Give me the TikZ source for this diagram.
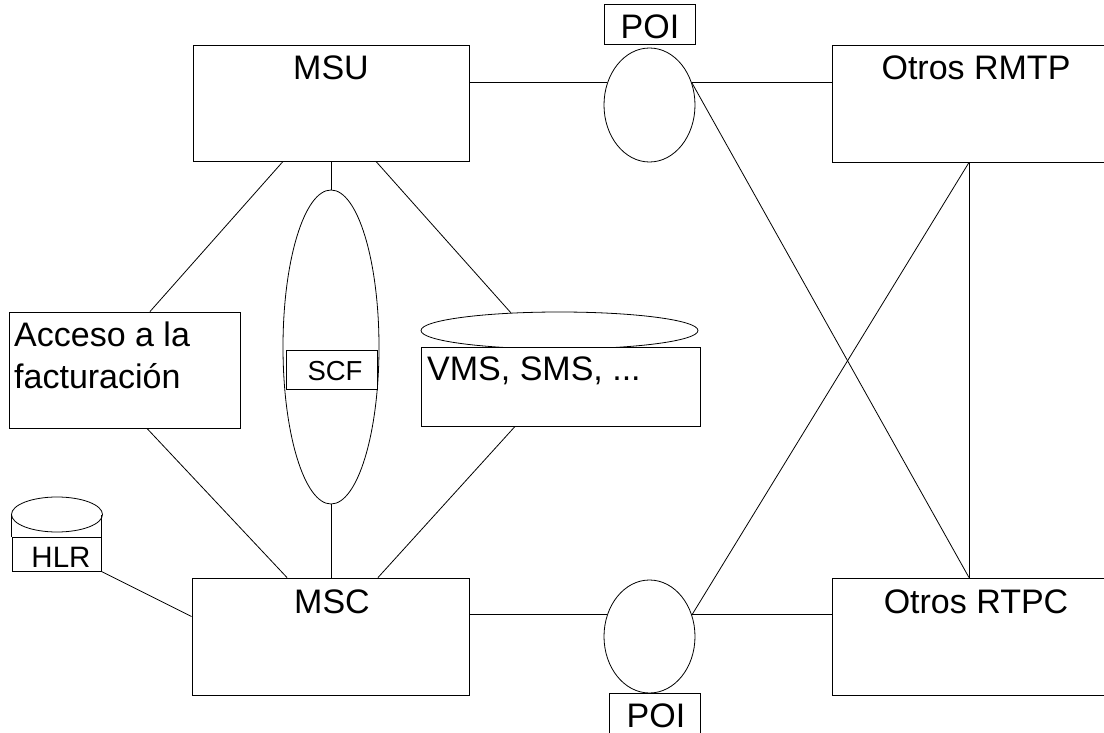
\documentclass[tikz,border=0pt]{standalone}
\usepackage{fontspec}
\setmainfont{Liberation Sans}
\usetikzlibrary{shapes.geometric,calc}
\begin{document}
\begin{tikzpicture}[x=1pt,y=-1pt,
  box/.style={draw, rectangle, inner sep=0pt, line width=0.9pt, fill=white},
  oval/.style={draw, ellipse, inner sep=0pt, line width=0.8pt, fill=white},
  link/.style={line width=0.8pt},
  big/.style={font=\fontsize{34}{41.7}\selectfont, inner sep=0pt},
  mid/.style={font=\fontsize{29.5}{34}\selectfont, inner sep=0pt},
  small/.style={font=\fontsize{27.5}{32}\selectfont, inner sep=0pt}]
\useasboundingbox (0,0) rectangle (1104,733);
\clip (0,0) rectangle (1104,733);

% main boxes
\node[box, minimum width=276pt, minimum height=116pt] (msu) at (331,103) {};
\node[box, minimum width=277pt, minimum height=117pt] (msc) at (330.5,636.5) {};
\node[box, minimum width=274pt, minimum height=117pt] (rmtp) at (969,103.5) {};
\node[box, minimum width=274pt, minimum height=117pt] (rtpc) at (969,636.5) {};
\node[box, minimum width=231pt, minimum height=116pt] (acceso) at (124.5,370) {};

% VMS storage
\node[oval, minimum width=277pt, minimum height=37pt] (vmsell) at (559.5,330.5) {};
\node[box, minimum width=279pt, minimum height=79pt] (vms) at (560.5,386.5) {};

% SCF
\node[oval, minimum width=96pt, minimum height=314pt] (scfell) at (331,347) {};
\node[box, minimum width=91pt, minimum height=39pt] (scf) at (331.5,369.5) {};

% POIs
\node[oval, minimum width=91pt, minimum height=114pt] (poi1ell) at (649.5,105) {};
\node[box, minimum width=91pt, minimum height=40pt] (poi1) at (649.5,24) {};
\node[oval, minimum width=91pt, minimum height=113pt] (poi2ell) at (649.5,636.5) {};
\node[box, minimum width=91pt, minimum height=52pt] (poi2) at (654.5,719) {};

% HLR cylinder
\node[oval, minimum width=91pt, minimum height=35pt] (hlrtop) at (57,514.5) {};
\node[box, minimum width=89pt, minimum height=34pt] (hlr) at (56.5,554) {};
\draw[line width=0.9pt] (hlr.north west) -- ++(0,-22);
\draw[line width=0.9pt] (hlr.north east) -- ++(0,-22);

% texts
\node[big, anchor=base] at (331,80) {MSU};
\node[big, anchor=base] at (332,613) {MSC};
\node[big, anchor=base] at (976,80) {Otros RMTP};
\node[big, anchor=base] at (976,613) {Otros RTPC};
\node[big, anchor=base] at (650,39) {POI};
\node[big, anchor=base] at (656,727) {POI};
\node[big, anchor=base west] at (427,380) {VMS, SMS, ...};
\node[big, anchor=base west] at (14,346.5) {\begin{tabular}[t]{@{}l@{}}Acceso a la\\facturación\end{tabular}};
\node[mid, anchor=base] at (61,567) {HLR};
\node[small, anchor=base] at (335,380) {SCF};

% connectors
\draw[link] ($(msu.south)+(-48,0)$) -- ($(acceso.north)+(25.5,0)$);
\draw[link] (scfell.north) -- (scfell.north |- msu.south);
\draw[link] ($(msu.south)+(45,0)$) -- (vmsell.160);
\draw[link] ($(acceso.south)+(22.5,0)$) -- ($(msc.north)+(-43.5,0)$);
\draw[link] (scfell.south) -- (scfell.south |- msc.north);
\draw[link] ($(vms.south)+(-45.5,0)$) -- ($(msc.north)+(47.5,0)$);
\draw[link] (hlr.south east) -- ($(msc.west)+(0,-20)$);

\draw[link] (msu.east |- poi1ell.152) -- (poi1ell.152);
\draw[link] (poi1ell.28) -- (poi1ell.28 -| rmtp.west);
\draw[link] (msc.east |- poi2ell.153) -- (poi2ell.153);
\draw[link] (poi2ell.27) -- (poi2ell.27 -| rtpc.west);

\draw[link] (poi1ell.28) -- (rtpc.north);
\draw[link] (poi2ell.27) -- (rmtp.south);
\draw[link] (rmtp.south) -- (rtpc.north);
\end{tikzpicture}
\end{document}
